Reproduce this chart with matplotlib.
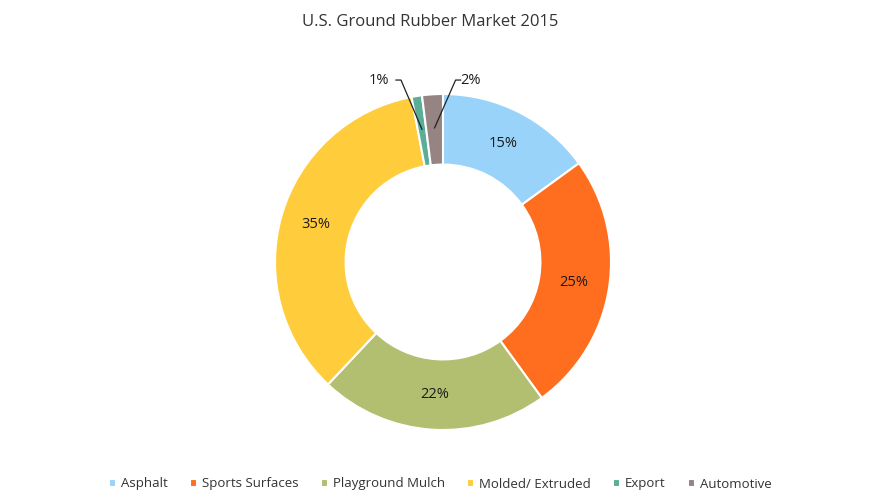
import numpy as np
import matplotlib.pyplot as plt

segments = ['Asphalt', 'Sports Surfaces', 'Playground Mulch', 'Molded/ Extruded', 'Export', 'Automotive']
shares = [15, 25, 22, 35, 1, 2]
colors = ['#99D3F9', '#FF6E1E', '#B2BE70', '#FFCD3C', '#5AAE97', '#968483']

plt.rcParams['font.family'] = ['Open Sans', 'DejaVu Sans']

fig = plt.figure(figsize=(8.7, 5), dpi=100)
# axes 400px square centred on the donut centre (443, 262)
ax = fig.add_axes([(443 - 200) / 870, (238 - 200) / 500, 400 / 870, 400 / 500])

wedges, _ = ax.pie(shares, colors=colors, startangle=90, counterclock=False,
                   radius=1, wedgeprops=dict(width=0.42, edgecolor='white', linewidth=1.5))

# percentage labels
total = sum(shares)
cum = 0
for i, v in enumerate(shares):
    mid = 90 - 360 * (cum + v / 2) / total
    cum += v
    x, y = np.cos(np.radians(mid)), np.sin(np.radians(mid))
    if v >= 5:
        ax.text(0.79 * x, 0.79 * y, f'{v}%', ha='center', va='center', fontsize=10.5, color='#1a1a1a')
    else:
        px, py = 0.8 * x, 0.8 * y
        if x < -0.1:
            tx, ex = -0.38, -0.25
            ax.plot([tx + 0.1, ex, px], [1.083, 1.083, py], color='#222222', lw=0.9)
            ax.text(tx, 1.083, f'{v}%', ha='center', va='center', fontsize=10.5, color='#1a1a1a')
        else:
            tx, ex = 0.165, 0.075
            ax.plot([tx - 0.06, ex, px], [1.083, 1.083, py], color='#222222', lw=0.9)
            ax.text(tx, 1.083, f'{v}%', ha='center', va='center', fontsize=10.5, color='#1a1a1a')

lim = 200 / 168
ax.set_xlim(-lim, lim)
ax.set_ylim(-lim, lim)
ax.set_aspect('equal')
ax.axis('off')

fig.text(0.495, 0.957, 'U.S. Ground Rubber Market 2015', ha='center', va='center',
         fontsize=12, color='#333333')

fig.legend(wedges, segments, loc='center', bbox_to_anchor=(0.506, 0.032), ncol=6,
           frameon=False, fontsize=9.5, handlelength=0.55, handleheight=0.55,
           handletextpad=0.35, columnspacing=1.7, labelcolor='#333333')

fig.savefig('out.png', dpi=100)
